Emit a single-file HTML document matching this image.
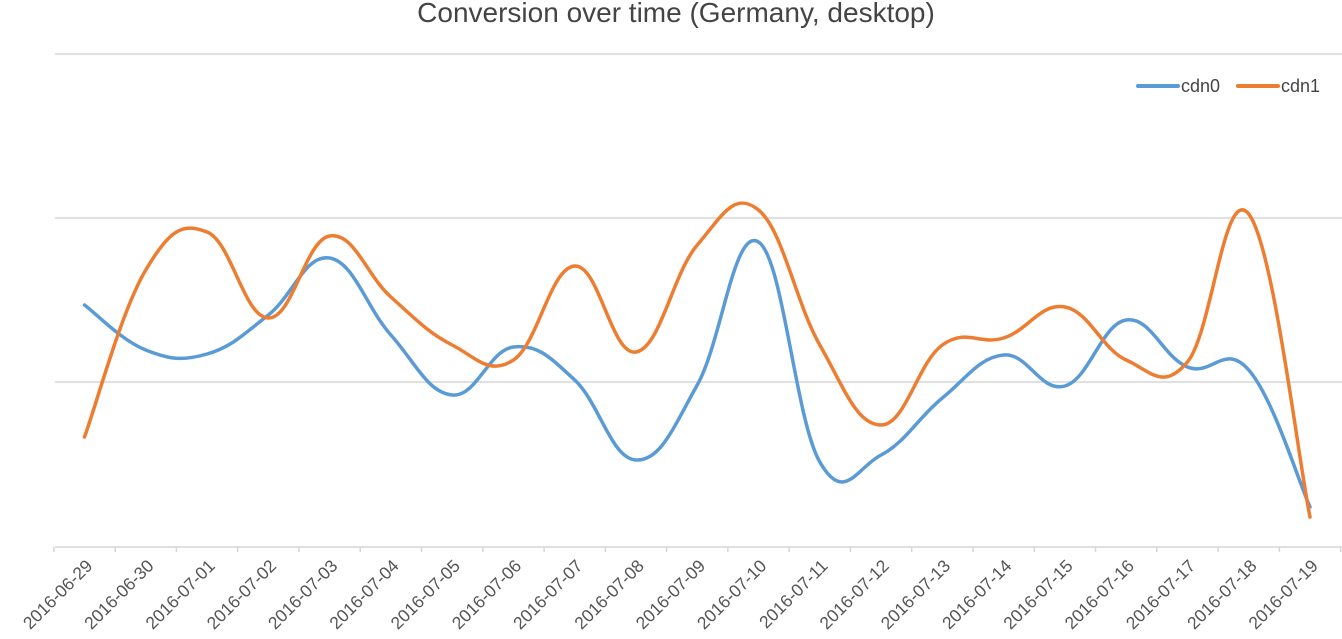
<!DOCTYPE html>
<html><head><meta charset="utf-8"><style>body{margin:0;background:#fff}svg{display:block}text{font-family:"Liberation Sans",sans-serif}</style></head>
<body>
<svg id="s" width="1342" height="639" xmlns="http://www.w3.org/2000/svg">
<text x="676" y="22" text-anchor="middle" font-size="28" fill="#444">Conversion over time (Germany, desktop)</text>
<g stroke="#d6d6d6" stroke-width="1.5">
<line x1="55" y1="54" x2="1342" y2="54"/><line x1="55" y1="218" x2="1342" y2="218"/><line x1="55" y1="382" x2="1342" y2="382"/><line x1="55" y1="547" x2="1342" y2="547"/>
</g>
<g id="ticks" stroke="#d6d6d6" stroke-width="1.5"></g>
<g id="labels" font-size="17.5" fill="#555"></g>
<path id="c0" fill="none" stroke="#5b9bd5" stroke-width="3.5" stroke-linecap="round"/>
<path id="c1" fill="none" stroke="#ed7d31" stroke-width="3.5" stroke-linecap="round"/>
<line x1="1138" y1="86" x2="1178" y2="86" stroke="#5b9bd5" stroke-width="4" stroke-linecap="round"/>
<text x="1181" y="92" font-size="18" fill="#444">cdn0</text>
<line x1="1238" y1="86" x2="1278" y2="86" stroke="#ed7d31" stroke-width="4" stroke-linecap="round"/>
<text x="1281" y="92" font-size="18" fill="#444">cdn1</text>
</svg>
<script>
var dates=["2016-06-29","2016-06-30","2016-07-01","2016-07-02","2016-07-03","2016-07-04","2016-07-05","2016-07-06","2016-07-07","2016-07-08","2016-07-09","2016-07-10","2016-07-11","2016-07-12","2016-07-13","2016-07-14","2016-07-15","2016-07-16","2016-07-17","2016-07-18","2016-07-19"];
var a=[305,350,354,315,258,335,395,347,380,460,385,242,462,455,398,355,386,320,367,370,507];
var b=[437,270,232,318,236,297,345,360,266,352,245,210,345,425,345,338,307,360,362,214,517];
var sp=(1310-84.5)/20,X=function(i){return 84.5+i*sp};
var ns="http://www.w3.org/2000/svg",tk=document.getElementById("ticks"),lb=document.getElementById("labels");
for(var i=0;i<=21;i++){var l=document.createElementNS(ns,"line");var x=X(i)-sp/2;l.setAttribute("x1",x);l.setAttribute("x2",x);l.setAttribute("y1",547);l.setAttribute("y2",552);tk.appendChild(l);}
dates.forEach(function(d,i){var t=document.createElementNS(ns,"text");var x=X(i)+9,y=567;t.setAttribute("x",x);t.setAttribute("y",y);t.setAttribute("text-anchor","end");t.setAttribute("transform","rotate(-45 "+x+" "+y+")");t.textContent=d;lb.appendChild(t);});
function path(v){var p=v.map(function(y,i){return[X(i),y]});var d="M"+p[0][0]+","+p[0][1];for(var i=0;i<p.length-1;i++){var p0=p[Math.max(0,i-1)],p1=p[i],p2=p[i+1],p3=p[Math.min(p.length-1,i+2)];var t=0.2;d+=" C"+(p1[0]+(p2[0]-p0[0])*t)+","+(p1[1]+(p2[1]-p0[1])*t)+" "+(p2[0]-(p3[0]-p1[0])*t)+","+(p2[1]-(p3[1]-p1[1])*t)+" "+p2[0]+","+p2[1];}return d;}
document.getElementById("c0").setAttribute("d",path(a));
document.getElementById("c1").setAttribute("d",path(b));
</script>
</body></html>
